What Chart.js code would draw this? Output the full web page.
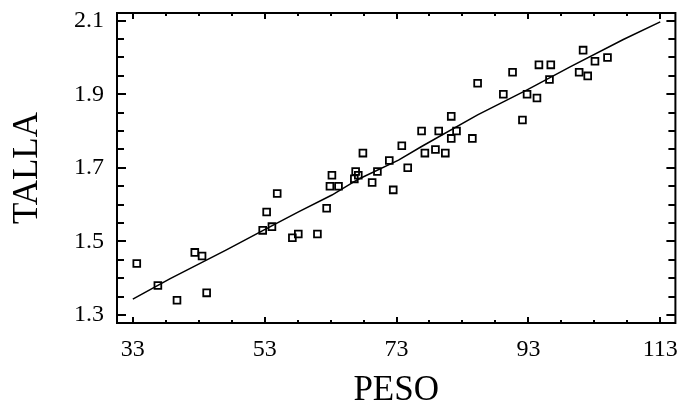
<!DOCTYPE html>
<html lang="es">
<head>
    <meta charset="UTF-8">
    <title>TALLA vs PESO</title>
    <script src="https://cdn.jsdelivr.net/npm/chart.js"></script>
    <style>
        html, body { margin: 0; padding: 0; background: #fff; }
        #wrap { width: 682px; height: 405px; }
    </style>
</head>
<body>
    <div id="wrap"><canvas id="tallaChart"></canvas></div>

    <script>
        const peso = [33.6, 36.8, 39.7, 42.4, 43.5, 44.2, 52.7, 53.3, 54.1, 54.9,
                      57.2, 58.1, 61.0, 62.4, 62.9, 63.2, 64.2, 66.6, 66.8, 67.2,
                      67.9, 69.3, 70.1, 71.9, 72.5, 73.8, 74.7, 76.8, 77.3, 78.9,
                      79.4, 80.4, 81.3, 81.3, 82.1, 84.5, 85.3, 89.2, 90.6, 92.1,
                      92.8, 94.3, 94.6, 96.2, 96.4, 100.7, 101.3, 102.0, 103.1, 105.0];
        const talla = [1.44, 1.38, 1.34, 1.47, 1.46, 1.36, 1.53, 1.58, 1.54, 1.63,
                       1.51, 1.52, 1.52, 1.59, 1.65, 1.68, 1.65, 1.67, 1.69, 1.68,
                       1.74, 1.66, 1.69, 1.72, 1.64, 1.76, 1.70, 1.80, 1.74, 1.75,
                       1.80, 1.74, 1.84, 1.78, 1.80, 1.78, 1.93, 1.90, 1.96, 1.83,
                       1.90, 1.89, 1.98, 1.94, 1.98, 1.96, 2.02, 1.95, 1.99, 2.00];

        // fitted curve
        const fitPeso  = [33, 38.6, 47.2, 52.7, 58.2, 63.2, 67.2, 73.3, 76.8, 85.3, 92.8, 99.4, 107.4, 113];
        const fitTalla = [1.343, 1.398, 1.477, 1.529, 1.581, 1.626, 1.669, 1.721, 1.758, 1.844, 1.912, 1.975, 2.049, 2.097];

        const xTicks = [33, 53, 73, 93, 113];
        const yTicks = [1.3, 1.5, 1.7, 1.9, 2.1];
        const xMinor = [38, 43, 48, 58, 63, 68, 78, 83, 88, 98, 103, 108];
        const yMinor = [1.35, 1.4, 1.45, 1.55, 1.6, 1.65, 1.75, 1.8, 1.85, 1.95, 2.0, 2.05];

        const serif = "'Liberation Serif', 'DejaVu Serif', serif";

        // frame plus inward ticks on all four sides
        const framePlugin = {
            id: 'frame',
            afterDraw(chart) {
                const ctx = chart.ctx;
                const a = chart.chartArea;
                const xs = chart.scales.x, ys = chart.scales.y;
                ctx.save();
                ctx.strokeStyle = '#000';
                ctx.lineWidth = 2;
                ctx.strokeRect(a.left, a.top, a.right - a.left, a.bottom - a.top);
                ctx.beginPath();
                const tickX = (vals, len) => vals.forEach(v => {
                    const px = Math.round(xs.getPixelForValue(v));
                    ctx.moveTo(px, a.bottom); ctx.lineTo(px, a.bottom - len);
                    ctx.moveTo(px, a.top); ctx.lineTo(px, a.top + len);
                });
                const tickY = (vals, len) => vals.forEach(v => {
                    const py = Math.round(ys.getPixelForValue(v));
                    ctx.moveTo(a.left, py); ctx.lineTo(a.left + len, py);
                    ctx.moveTo(a.right, py); ctx.lineTo(a.right - len, py);
                });
                tickX(xTicks, 6);
                tickX(xMinor, 3);
                tickY(yTicks, 9);
                tickY(yMinor, 7);
                ctx.stroke();
                ctx.restore();
            }
        };

        const ctx = document.getElementById('tallaChart').getContext('2d');
        new Chart(ctx, {
            data: {
                datasets: [{
                    type: 'scatter',
                    data: peso.map((p, i) => ({ x: p, y: talla[i] })),
                    pointStyle: 'rect',
                    pointRadius: 4.8,
                    pointBorderWidth: 1.8,
                    borderColor: '#000',
                    backgroundColor: 'rgba(0,0,0,0)'
                }, {
                    type: 'line',
                    data: fitPeso.map((p, i) => ({ x: p, y: fitTalla[i] })),
                    borderColor: '#000',
                    borderWidth: 1.5,
                    pointRadius: 0,
                    tension: 0,
                    fill: false
                }]
            },
            options: {
                responsive: true,
                maintainAspectRatio: false,
                animation: false,
                layout: { padding: { top: 13, right: 3, left: 0, bottom: 0 } },
                plugins: { legend: { display: false }, tooltip: { enabled: false } },
                scales: {
                    x: {
                        type: 'linear',
                        min: 30.6,
                        max: 115.3,
                        grid: { display: false, drawTicks: false },
                        border: { display: false },
                        afterBuildTicks: s => { s.ticks = xTicks.map(v => ({ value: v })); },
                        afterFit: s => {
                            s.height = 82;
                            s.paddingLeft = 0;
                            s.paddingRight = 0;
                        },
                        ticks: {
                            color: '#000',
                            padding: 12,
                            maxRotation: 0,
                            font: { family: serif, size: 24 },
                            callback: v => String(v)
                        },
                        title: {
                            display: true,
                            text: 'PESO',
                            color: '#000',
                            font: { family: serif, size: 35, lineHeight: 0.8 },
                            padding: { top: 6, bottom: 0 }
                        }
                    },
                    y: {
                        type: 'linear',
                        min: 1.278,
                        max: 2.121,
                        grid: { display: false, drawTicks: false },
                        border: { display: false },
                        afterBuildTicks: s => { s.ticks = yTicks.map(v => ({ value: v })); },
                        afterFit: s => {
                            s.width = 117;
                            s.paddingTop = 0;
                            s.paddingBottom = 0;
                        },
                        ticks: {
                            color: '#000',
                            padding: 13,
                            font: { family: serif, size: 24 },
                            callback: v => v.toFixed(1)
                        },
                        title: {
                            display: true,
                            text: 'TALLA',
                            color: '#000',
                            font: { family: serif, size: 35 },
                            padding: { top: 7, bottom: 0 }
                        }
                    }
                }
            },
            plugins: [framePlugin]
        });
    </script>
</body>
</html>
